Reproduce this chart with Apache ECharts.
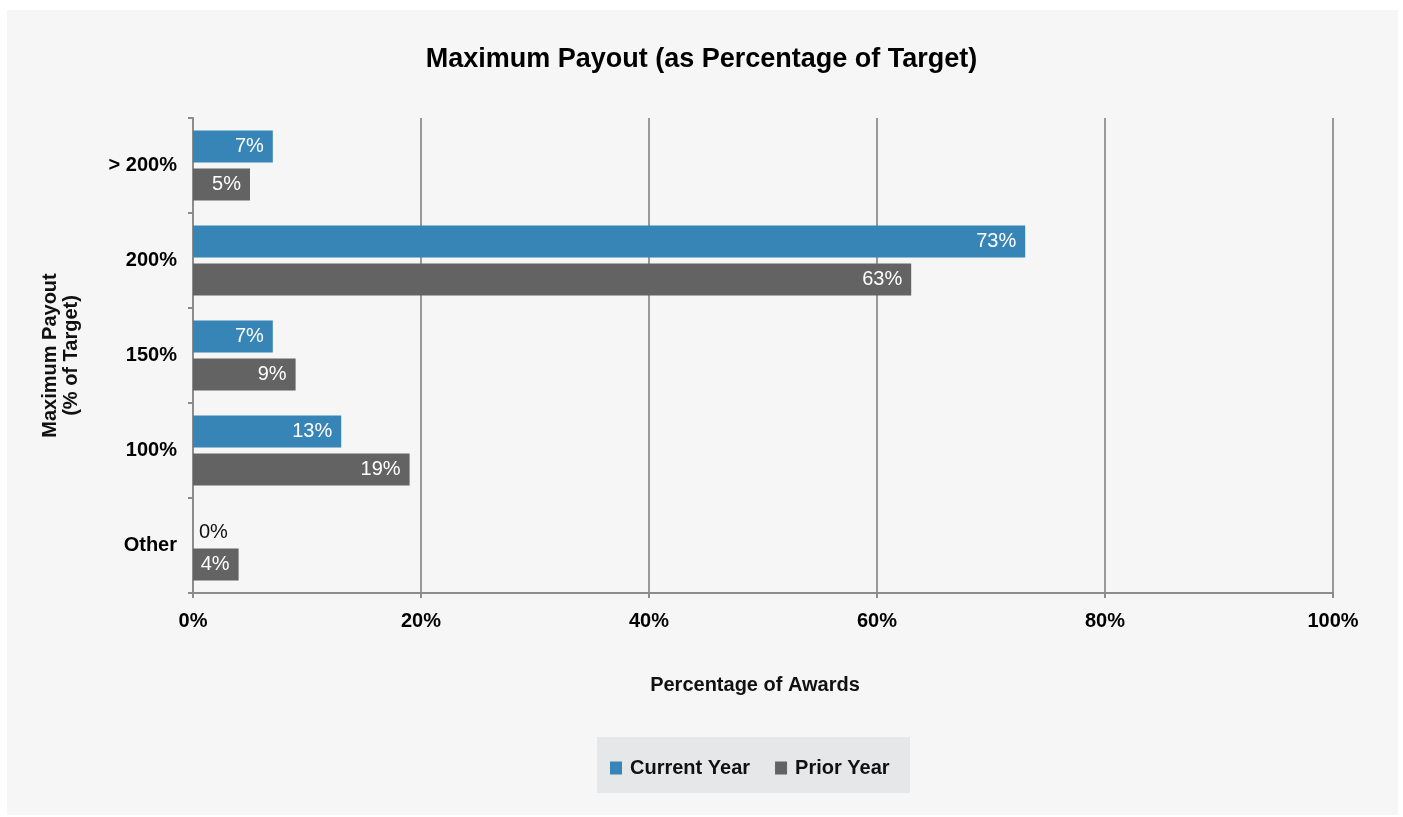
<!DOCTYPE html>
<html>
<head>
<meta charset="utf-8">
<script src="https://cdn.jsdelivr.net/npm/echarts@6/dist/echarts.min.js"></script>
<style>
  html, body { margin: 0; padding: 0; background: #ffffff; }
  #chart { width: 1403px; height: 817px; }
</style>
</head>
<body>
<div id="chart"></div>
<script>
// Payout tiers, listed top to bottom
const categories = ['> 200%', '200%', '150%', '100%', 'Other'];
const currentYear = [7, 73, 7, 13, 0];
const priorYear = [5, 63, 9, 19, 4];
const xTicks = [0, 20, 40, 60, 80, 100];

const FONT = '"Liberation Sans", Arial, Helvetica, sans-serif';
const BLUE = '#3784b6';
const GRAY = '#636363';

// A zero-length bar has no room for an inside label, so its label sits just right of the axis
function barData(values) {
  return values.map(v => v === 0
    ? { value: v, label: { position: 'right', color: '#111', distance: 6, offset: [0, 6] } }
    : v);
}

const labelStyle = {
  show: true,
  position: 'insideRight',
  distance: 9,
  color: '#ffffff',
  fontFamily: FONT,
  fontSize: 20,
  formatter: p => p.value + '%'
};

const chart = echarts.init(document.getElementById('chart'));
chart.setOption({
  backgroundColor: '#ffffff',
  animation: false,
  graphic: [
    { type: 'rect', z: -10, silent: true,
      shape: { x: 7, y: 10, width: 1391, height: 805 },
      style: { fill: '#f6f6f6' } },
    { type: 'rect', z: -5, silent: true,
      shape: { x: 597, y: 737, width: 313, height: 56 },
      style: { fill: '#e6e7e8' } }
  ],
  title: {
    text: 'Maximum Payout (as Percentage of Target)',
    left: 'center',
    top: 41,
    textStyle: { fontFamily: FONT, fontSize: 27, fontWeight: 'bold', color: '#000' }
  },
  legend: {
    left: 605,
    top: 753,
    itemWidth: 12,
    itemHeight: 13,
    itemGap: 25,
    icon: 'rect',
    textStyle: { fontFamily: FONT, fontSize: 20, fontWeight: 'bold', color: '#111', padding: [0, 0, 0, 3] },
    data: ['Current Year', 'Prior Year']
  },
  grid: { left: 193, right: 70, top: 118, bottom: 224 },
  xAxis: {
    type: 'value',
    min: 0,
    max: 100,
    interval: 20,
    name: 'Percentage of Awards',
    nameLocation: 'middle',
    nameGap: 82,
    nameTextStyle: { fontFamily: FONT, fontSize: 20, fontWeight: 'bold', color: '#111', padding: [0, 16, 0, 0] },
    axisLine: { show: true, lineStyle: { color: '#8c8c8c', width: 2 } },
    axisTick: { show: true, length: 5, lineStyle: { color: '#8c8c8c', width: 2 } },
    axisLabel: {
      fontFamily: FONT, fontSize: 20, fontWeight: 'bold', color: '#000', margin: 18,
      formatter: v => xTicks.includes(v) ? v + '%' : ''
    },
    splitLine: { show: true, lineStyle: { color: '#999999', width: 2 } }
  },
  yAxis: {
    type: 'category',
    inverse: true,
    data: categories,
    name: 'Maximum Payout\n(% of Target)',
    nameLocation: 'middle',
    nameGap: 111,
    nameRotate: 90,
    nameTextStyle: { fontFamily: FONT, fontSize: 20, fontWeight: 'bold', color: '#111', lineHeight: 21 },
    axisLine: { show: true, lineStyle: { color: '#8c8c8c', width: 2 } },
    axisTick: { show: true, length: 5, lineStyle: { color: '#8c8c8c', width: 2 } },
    axisLabel: { fontFamily: FONT, fontSize: 20, fontWeight: 'bold', color: '#000', margin: 16 }
  },
  series: [
    {
      name: 'Current Year',
      type: 'bar',
      barWidth: 32,
      barGap: '19%',
      itemStyle: { color: BLUE },
      label: labelStyle,
      data: barData(currentYear)
    },
    {
      name: 'Prior Year',
      type: 'bar',
      barWidth: 32,
      barGap: '19%',
      itemStyle: { color: GRAY },
      label: labelStyle,
      data: barData(priorYear)
    }
  ]
});
</script>
</body>
</html>
